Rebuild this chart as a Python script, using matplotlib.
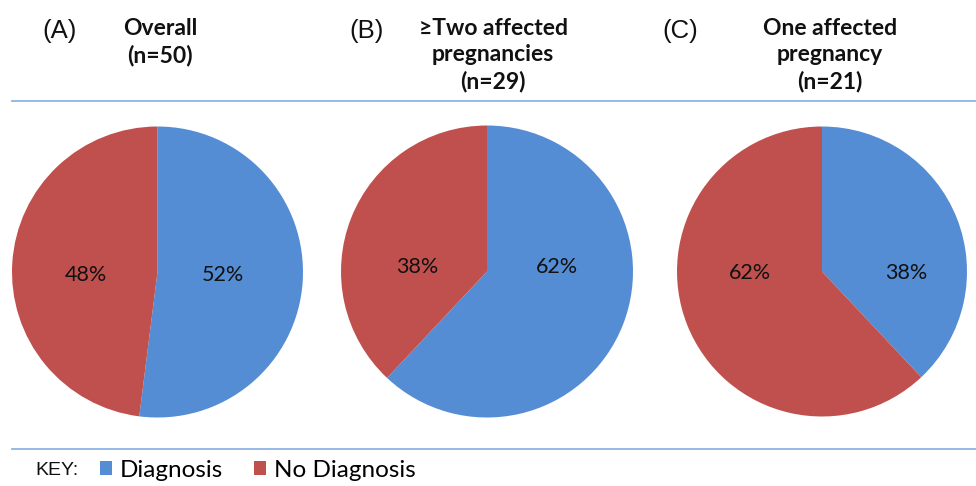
import matplotlib
matplotlib.use("Agg")
import matplotlib.pyplot as plt
from matplotlib.lines import Line2D
from matplotlib.patches import Patch

# ---- data ----
categories = ["Diagnosis", "No Diagnosis"]
panel_letters = ["(A)", "(B)", "(C)"]
panel_titles = ["Overall\n(n=50)", "\u2265Two affected\npregnancies\n(n=29)", "One affected\npregnancy\n(n=21)"]
overall_pct = [52, 48]
two_plus_pct = [62, 38]
one_pct = [38, 62]
panel_values = [overall_pct, two_plus_pct, one_pct]

colors = ["#548DD4", "#C0504D"]
W, H = 976, 486
fig = plt.figure(figsize=(W / 100, H / 100), dpi=100)

# pie geometry in pixels (center x, center y, radius)
pie_geom = [(157.5, 272, 145.5), (487, 271.5, 146), (822, 271.5, 145)]
# label positions (fraction of radius) per panel for [Diagnosis, No Diagnosis]
label_pos = [[(0.45, -0.02), (-0.495, -0.02)],
             [(0.48, 0.03), (-0.48, 0.03)],
             [(0.58, -0.01), (-0.50, -0.01)]]

for vals, (cx, cy, r), lp in zip(panel_values, pie_geom, label_pos):
    ax = fig.add_axes([(cx - r) / W, (H - cy - r) / H, 2 * r / W, 2 * r / H])
    wedges, texts, autotexts = ax.pie(vals, colors=colors, startangle=90, counterclock=False,
                                      autopct='%.0f%%', radius=1,
                                      wedgeprops=dict(linewidth=0),
                                      textprops=dict(family='Lato', fontsize=15.5, color='#111111'))
    for t, (px, py) in zip(autotexts, lp):
        t.set_position((px, py))
        t.set_ha('center'); t.set_va('center')
    ax.set_xlim(-1, 1); ax.set_ylim(-1, 1)
    ax.set_aspect('auto')
    ax.axis('off')

# panel letters and titles
letter_x = [60, 367, 680]
title_x = [160, 493, 830]
for lx, tx, letter, title in zip(letter_x, title_x, panel_letters, panel_titles):
    fig.text(lx / W, 1 - 31 / H, letter, ha='center', va='center',
             family='Liberation Sans', fontsize=18.5, color='#111111')
    fig.text(tx / W, 1 - 18 / H, title, ha='center', va='top', family='Lato',
             fontweight='bold', fontsize=16.5, color='#111111', linespacing=1.3)

# separator lines
line_color = '#8DB3E2'
fig.add_artist(Line2D([12 / W, 1], [1 - 101 / H] * 2, color=line_color, lw=1.3))
fig.add_artist(Line2D([12 / W, 1], [1 - 449 / H] * 2, color=line_color, lw=1.3))

# key
fig.text(35 / W, 1 - 470 / H, "KEY:", ha='left', va='center', family='Liberation Sans',
         fontsize=14, color='#111111')
handles = [Patch(facecolor=c, edgecolor='none') for c in colors]
fig.legend(handles, categories, loc='center left', bbox_to_anchor=(100 / W, 1 - 470 / H),
           ncol=2, frameon=False, handlelength=0.5, handleheight=0.5, handletextpad=0.33,
           columnspacing=1.25, borderaxespad=0, borderpad=0,
           prop=dict(family='Lato', size=17.5))

fig.savefig("out.png", dpi=100, facecolor='white')
